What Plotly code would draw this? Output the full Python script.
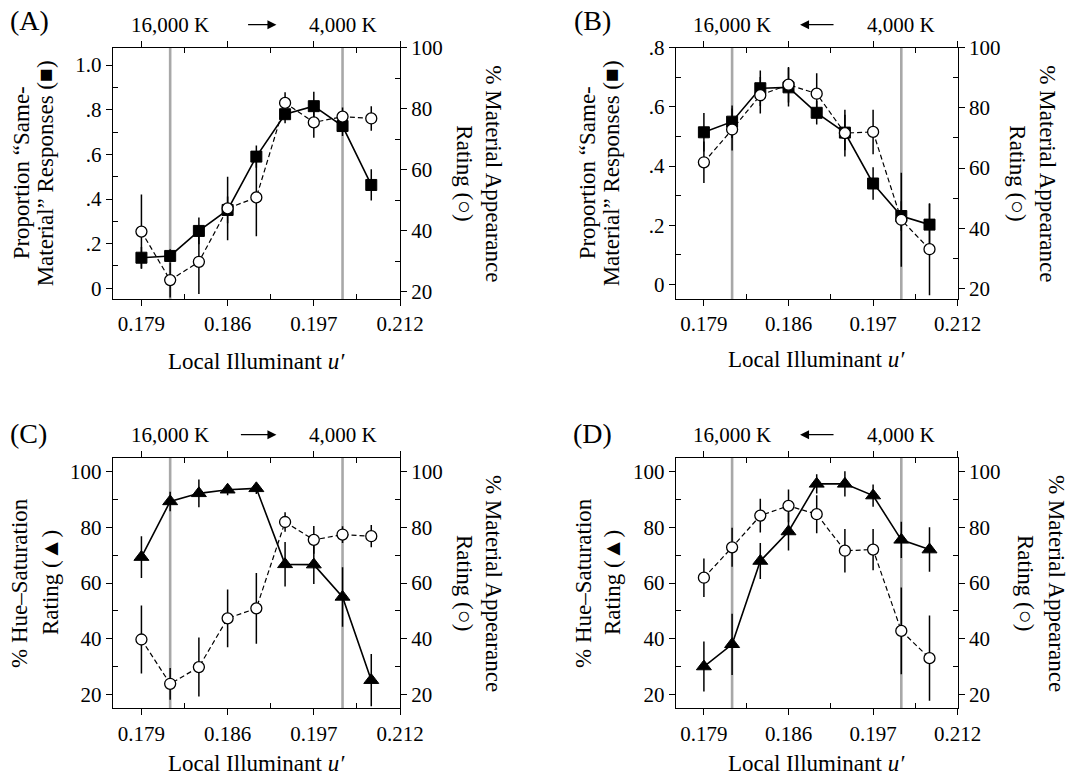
import plotly.graph_objects as go

# ---- data -------------------------------------------------------------
stimulus_index = [0, 1, 2, 3, 4, 5, 6, 7, 8]
u_tick_index = [0, 3, 6, 9]
u_tick_labels = ["0.179", "0.186", "0.197", "0.212"]
u_minor_index = [1.5, 4.5, 7.5]
reference_index = [1, 7]          # 16,000 K and 4,000 K illuminants

# (A) proportion "same-material" responses, 16,000 K -> 4,000 K
same_material_a = [0.137, 0.145, 0.257, 0.351, 0.590, 0.780, 0.816, 0.727, 0.463]
same_material_a_err = [0.048, 0.030, 0.060, 0.060, 0.050, 0.040, 0.065, 0.045, 0.070]

# (B) proportion "same-material" responses, 4,000 K -> 16,000 K
same_material_b = [0.514, 0.550, 0.663, 0.666, 0.580, 0.513, 0.341, 0.231, 0.202]
same_material_b_err = [0.065, 0.055, 0.060, 0.065, 0.040, 0.060, 0.055, 0.050, 0.070]

# % material appearance rating (shared by A/C and B/D)
material_rating_ac = [39.7, 23.8, 29.8, 47.3, 50.9, 81.9, 75.5, 77.4, 76.8]
material_rating_ac_err = [12.2, 5.7, 10.6, 10.4, 12.7, 3.5, 5.0, 3.0, 4.0]
material_rating_bd = [61.9, 72.8, 84.2, 87.7, 84.7, 71.6, 72.0, 42.8, 33.0]
material_rating_bd_err = [6.9, 7.0, 6.1, 5.9, 6.8, 7.8, 7.4, 15.6, 15.3]

# % hue-saturation rating
hue_sat_c = [69.3, 89.3, 92.2, 93.5, 94.0, 66.7, 66.6, 55.0, 25.1]
hue_sat_c_err = [7.5, 3.5, 5.0, 2.0, 2.0, 8.0, 7.0, 10.7, 9.4]
hue_sat_d = [30.0, 38.0, 67.9, 78.5, 95.6, 95.6, 91.4, 75.5, 72.0]
hue_sat_d_err = [9.0, 11.0, 6.5, 6.8, 3.5, 4.5, 4.0, 6.5, 8.0]

# axis ticks
prop_ticks_a = [0, 0.2, 0.4, 0.6, 0.8, 1.0]
prop_labels_a = ["0", ".2", ".4", ".6", ".8", "1.0"]
prop_minor_a = [0.1, 0.3, 0.5, 0.7, 0.9]
prop_ticks_b = [0, 0.2, 0.4, 0.6, 0.8]
prop_labels_b = ["0", ".2", ".4", ".6", ".8"]
prop_minor_b = [0.1, 0.3, 0.5, 0.7]
pct_ticks = [20, 40, 60, 80, 100]
pct_labels = ["20", "40", "60", "80", "100"]
pct_minor = [30, 50, 70, 90]

# ---- layout geometry (pixels) ------------------------------------------
W, H = 1073, 777
FONT = "Liberation Serif, Times New Roman, serif"
TICK_SIZE = 21
TITLE_SIZE = 23


def px_x(v):
    return v / W


def px_y(v):
    return 1 - v / H


panels = [
    dict(name="(A)", xs=(112.7, 400.0), ys=(47.7, 299.0), arrow=(3.66, 4.70),
         left=(same_material_a, same_material_a_err, "square"),
         right=(material_rating_ac, material_rating_ac_err),
         lrange=[-0.048, 1.078], rrange=[17.6, 100],
         lticks=(prop_ticks_a, prop_labels_a, prop_minor_a),
         ltitle=("Proportion \u201cSame-", "Material\u201d Responses (\u25a0)"),
         ltitle_x=(21, 45), rtitle_x=(494, 465), xtitle_y=361,
         label_xy=(29, 21)),
    dict(name="(B)", xs=(675.7, 957.7), ys=(47.7, 299.0), arrow=(4.65, 3.41),
         left=(same_material_b, same_material_b_err, "square"),
         right=(material_rating_bd, material_rating_bd_err),
         lrange=[-0.0494, 0.8], rrange=[16.45, 100],
         lticks=(prop_ticks_b, prop_labels_b, prop_minor_b),
         ltitle=("Proportion \u201cSame-", "Material\u201d Responses (\u25a0)"),
         ltitle_x=(587, 611), rtitle_x=(1048, 1018), xtitle_y=360,
         label_xy=(592, 21)),
    dict(name="(C)", xs=(112.7, 400.0), ys=(457.7, 708.3), arrow=(3.41, 4.70),
         left=(hue_sat_c, hue_sat_c_err, "triangle-up"),
         right=(material_rating_ac, material_rating_ac_err),
         lrange=[15, 105], rrange=[15, 105],
         lticks=(pct_ticks, pct_labels, pct_minor),
         ltitle=("% Hue\u2013Saturation", "Rating (\u25b2)"),
         ltitle_x=(19, 50), rtitle_x=(494, 465), xtitle_y=763,
         label_xy=(28, 433)),
    dict(name="(D)", xs=(675.7, 957.7), ys=(457.7, 708.3), arrow=(4.65, 3.41),
         left=(hue_sat_d, hue_sat_d_err, "triangle-up"),
         right=(material_rating_bd, material_rating_bd_err),
         lrange=[15, 105], rrange=[15, 105],
         lticks=(pct_ticks, pct_labels, pct_minor),
         ltitle=("% Hue\u2013Saturation", "Rating (\u25b2)"),
         ltitle_x=(583, 612), rtitle_x=(1057, 1026), xtitle_y=763,
         label_xy=(592, 433)),
]

fig = go.Figure()
layout = dict(
    width=W, height=H,
    margin=dict(l=0, r=0, t=0, b=0, autoexpand=False),
    paper_bgcolor="white", plot_bgcolor="white",
    showlegend=False,
    font=dict(family=FONT, size=TICK_SIZE, color="black"),
)
annotations = []
shapes = []

axis_common = dict(
    showgrid=False, zeroline=False, showline=True, linecolor="black",
    linewidth=1.2, ticks="outside", ticklen=6, tickwidth=1.2, tickcolor="black",
    tickfont=dict(family=FONT, size=TICK_SIZE, color="black"),
    automargin=False,
)

for i, p in enumerate(panels):
    xi = i + 1
    yl = 2 * i + 1
    yr = 2 * i + 2
    xname = "xaxis" if xi == 1 else f"xaxis{xi}"
    xref = "x" if xi == 1 else f"x{xi}"
    ylname = "yaxis" if yl == 1 else f"yaxis{yl}"
    ylref = "y" if yl == 1 else f"y{yl}"
    yrname = f"yaxis{yr}"
    yrref = f"y{yr}"

    xdom = [px_x(p["xs"][0]), px_x(p["xs"][1])]
    ydom = [px_y(p["ys"][1]), px_y(p["ys"][0])]
    plot_h = p["ys"][1] - p["ys"][0]

    layout[xname] = dict(
        axis_common, domain=xdom, anchor=ylref, range=[-1, 9],
        tickmode="array", tickvals=u_tick_index, ticktext=u_tick_labels,
        mirror="ticks",
        minor=dict(tickmode="array", tickvals=u_minor_index, ticks="inside",
                   ticklen=5, tickwidth=1.2, tickcolor="black"),
    )
    lt, ll, lm = p["lticks"]
    layout[ylname] = dict(
        axis_common, domain=ydom, anchor=xref, range=p["lrange"],
        tickmode="array", tickvals=lt, ticktext=ll,
        minor=dict(tickmode="array", tickvals=lm, ticks="inside",
                   ticklen=5, tickwidth=1.2, tickcolor="black"),
    )
    layout[yrname] = dict(
        axis_common, anchor=xref, overlaying=ylref, side="right",
        range=p["rrange"],
        tickmode="array", tickvals=pct_ticks, ticktext=pct_labels,
        minor=dict(tickmode="array", tickvals=pct_minor, ticks="inside",
                   ticklen=5, tickwidth=1.2, tickcolor="black"),
    )

    # grey reference-illuminant lines
    for r in reference_index:
        shapes.append(dict(
            type="line", xref=xref, yref=f"{ylref} domain",
            x0=r, x1=r, y0=0, y1=1, layer="below",
            line=dict(color="#a8a8a8", width=2.6),
        ))

    # left-axis series (solid line, filled markers)
    vals, errs, sym = p["left"]
    fig.add_trace(go.Scatter(
        x=stimulus_index, y=vals, xaxis=xref, yaxis=ylref,
        mode="lines+markers",
        line=dict(color="black", width=1.6),
        marker=dict(symbol=sym, size=11 if sym == "square" else 13,
                    color="black", line=dict(color="black", width=1)),
        error_y=dict(type="data", array=errs, visible=True,
                     thickness=1.5, width=0, color="black"),
    ))
    # right-axis series (dashed line, open circles)
    rvals, rerrs = p["right"]
    fig.add_trace(go.Scatter(
        x=stimulus_index, y=rvals, xaxis=xref, yaxis=yrref,
        mode="lines+markers",
        line=dict(color="black", width=1.2, dash="5px,3px"),
        marker=dict(symbol="circle", size=11, color="white",
                    line=dict(color="black", width=1.3)),
        error_y=dict(type="data", array=rerrs, visible=True,
                     thickness=1.5, width=0, color="black"),
    ))

    # colour-temperature labels above the frame
    top_y = 1 + 23 / plot_h
    for r, txt in zip(reference_index, ["16,000 K", "4,000 K"]):
        annotations.append(dict(
            text=txt, x=r, y=top_y, xref=xref, yref=f"{ylref} domain",
            showarrow=False, xanchor="center", yanchor="middle",
            font=dict(family=FONT, size=TICK_SIZE, color="black"),
        ))
    tail, head = p["arrow"]
    annotations.append(dict(
        text="", x=head, y=top_y, xref=xref, yref=f"{ylref} domain",
        ax=tail, ay=0, axref=xref, ayref="pixel",
        showarrow=True, arrowhead=2, arrowsize=1.5, arrowwidth=1.2,
        arrowcolor="black", standoff=0, startstandoff=0,
    ))

    # panel letter
    lx, ly = p["label_xy"]
    annotations.append(dict(
        text=p["name"], x=px_x(lx), y=px_y(ly), xref="paper", yref="paper",
        showarrow=False, xanchor="center", yanchor="middle",
        font=dict(family=FONT, size=28, color="black"),
    ))

    # axis titles
    ymid = px_y((p["ys"][0] + p["ys"][1]) / 2)
    for txt, tx in zip(p["ltitle"], p["ltitle_x"]):
        annotations.append(dict(
            text=txt, x=px_x(tx), y=ymid, xref="paper", yref="paper",
            showarrow=False, xanchor="center", yanchor="middle", textangle=-90,
            font=dict(family=FONT, size=TITLE_SIZE, color="black"),
        ))
    for txt, tx in zip(["% Material Appearance", "Rating (\u25cb)"], p["rtitle_x"]):
        annotations.append(dict(
            text=txt, x=px_x(tx), y=ymid, xref="paper", yref="paper",
            showarrow=False, xanchor="center", yanchor="middle", textangle=90,
            font=dict(family=FONT, size=TITLE_SIZE, color="black"),
        ))
    annotations.append(dict(
        text="Local Illuminant <i>u\u2032</i>",
        x=(xdom[0] + xdom[1]) / 2, y=px_y(p["xtitle_y"]),
        xref="paper", yref="paper", showarrow=False,
        xanchor="center", yanchor="middle",
        font=dict(family=FONT, size=TITLE_SIZE, color="black"),
    ))

layout["annotations"] = annotations
layout["shapes"] = shapes
fig.update_layout(**layout)
fig.write_html("out.html")
